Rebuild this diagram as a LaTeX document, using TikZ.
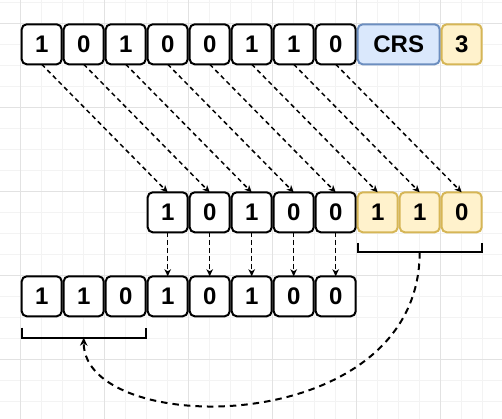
\documentclass[tikz,border=0pt]{standalone}
\usepackage{fontspec}
\setmainfont{Liberation Sans}
\usetikzlibrary{arrows.meta,calc}

\definecolor{gridminor}{HTML}{F3F3F3}
\definecolor{gridmajor}{HTML}{E2E2E2}
\definecolor{bluefill}{HTML}{DAE8FC}
\definecolor{bluedraw}{HTML}{6C8EBF}
\definecolor{yellowfill}{HTML}{FFF2CC}
\definecolor{yellowdraw}{HTML}{D6B656}

\begin{document}
\begin{tikzpicture}[x=42pt,y=-42pt,
    bitbox/.style={rectangle, rounded corners=5pt, draw, line width=2pt, fill=white,
      minimum width=40pt, minimum height=40pt, inner sep=0pt, outer sep=0pt,
      font=\fontsize{24}{28}\selectfont\bfseries},
    keptbox/.style={bitbox, draw=yellowdraw, fill=yellowfill},
    crsbox/.style={bitbox, draw=bluedraw, fill=bluefill, minimum width=82pt},
    shiftarrow/.style={line width=1.5pt, dash pattern=on 4.5pt off 3.5pt, -{Stealth[length=7pt,width=6.5pt,inset=2pt]}},
    wraparrow/.style={line width=2pt, dash pattern=on 6.5pt off 5pt, -{Stealth[length=8pt,width=7.5pt,inset=2.5pt]}},
    bracket/.style={line width=2pt}]
      % Background grid
      \useasboundingbox (-0.493,-0.555) rectangle (11.460,9.421);
      \foreach \gx in {-0.5,0,...,11.5} \draw[gridminor, line width=0.7pt] (\gx,-0.555) -- (\gx,9.421);
      \foreach \gy in {-0.5,0,...,9.5} \draw[gridminor, line width=0.7pt] (-0.493,\gy) -- (11.460,\gy);
      \foreach \gx in {0,2,...,10} \draw[gridmajor, line width=0.7pt] (\gx,-0.555) -- (\gx,9.421);
      \foreach \gy in {0,2,...,8} \draw[gridmajor, line width=0.7pt] (-0.493,\gy) -- (11.460,\gy);

      % Nodes
      \node (top1) at (0.5,0.5) [bitbox] {1};
      \node (top2) at (1.5,0.5) [bitbox] {0};
      \node (top3) at (2.5,0.5) [bitbox] {1};
      \node (top4) at (3.5,0.5) [bitbox] {0};
      \node (top5) at (4.5,0.5) [bitbox] {0};
      \node (top6) at (5.5,0.5) [bitbox] {1};
      \node (top7) at (6.5,0.5) [bitbox] {1};
      \node (top8) at (7.5,0.5) [bitbox] {0};
      \node (crs) at (9,0.5) [crsbox] {CRS};
      \node (amount) at (10.5,0.5) [keptbox] {3};

      \node (mid1) at (3.5,4.5) [bitbox] {1};
      \node (mid2) at (4.5,4.5) [bitbox] {0};
      \node (mid3) at (5.5,4.5) [bitbox] {1};
      \node (mid4) at (6.5,4.5) [bitbox] {0};
      \node (mid5) at (7.5,4.5) [bitbox] {0};
      \node (mid6) at (8.5,4.5) [keptbox] {1};
      \node (mid7) at (9.5,4.5) [keptbox] {1};
      \node (mid8) at (10.5,4.5) [keptbox] {0};

      \node (bot1) at (0.5,6.5) [bitbox] {1};
      \node (bot2) at (1.5,6.5) [bitbox] {1};
      \node (bot3) at (2.5,6.5) [bitbox] {0};
      \node (bot4) at (3.5,6.5) [bitbox] {1};
      \node (bot5) at (4.5,6.5) [bitbox] {0};
      \node (bot6) at (5.5,6.5) [bitbox] {1};
      \node (bot7) at (6.5,6.5) [bitbox] {0};
      \node (bot8) at (7.5,6.5) [bitbox] {0};

      % Brackets
      \coordinate (midL) at ($(mid6.south west)+(0,0.25)$);
      \coordinate (midR) at ($(mid8.south east)+(0,0.25)$);
      \coordinate (midC) at ($(midL)!0.5!(midR)+(0,0.22)$);
      \draw[bracket] (midL) -- ++(0,0.22) -| (midR);
      \coordinate (botL) at ($(bot1.south west)+(0,0.27)$);
      \coordinate (botR) at ($(bot3.south east)+(0,0.27)$);
      \coordinate (botC) at ($(botL)!0.5!(botR)+(0,0.24)$);
      \draw[bracket] (botL) -- ++(0,0.24) -| (botR);

      % Edges
      \draw[shiftarrow] (top1.south) -- (mid1.north);
      \draw[shiftarrow] (top2.south) -- (mid2.north);
      \draw[shiftarrow] (top3.south) -- (mid3.north);
      \draw[shiftarrow] (top4.south) -- (mid4.north);
      \draw[shiftarrow] (top5.south) -- (mid5.north);
      \draw[shiftarrow] (top6.south) -- (mid6.north);
      \draw[shiftarrow] (top7.south) -- (mid7.north);
      \draw[shiftarrow] (top8.south) -- (mid8.north);

      \draw[shiftarrow] (mid1.south) -- (bot4.north);
      \draw[shiftarrow] (mid2.south) -- (bot5.north);
      \draw[shiftarrow] (mid3.south) -- (bot6.north);
      \draw[shiftarrow] (mid4.south) -- (bot7.north);
      \draw[shiftarrow] (mid5.south) -- (bot8.north);

      \draw[wraparrow] (midC) .. controls +(0,4.48) and +(0,2.4) .. (botC);
    \end{tikzpicture}
\end{document}
